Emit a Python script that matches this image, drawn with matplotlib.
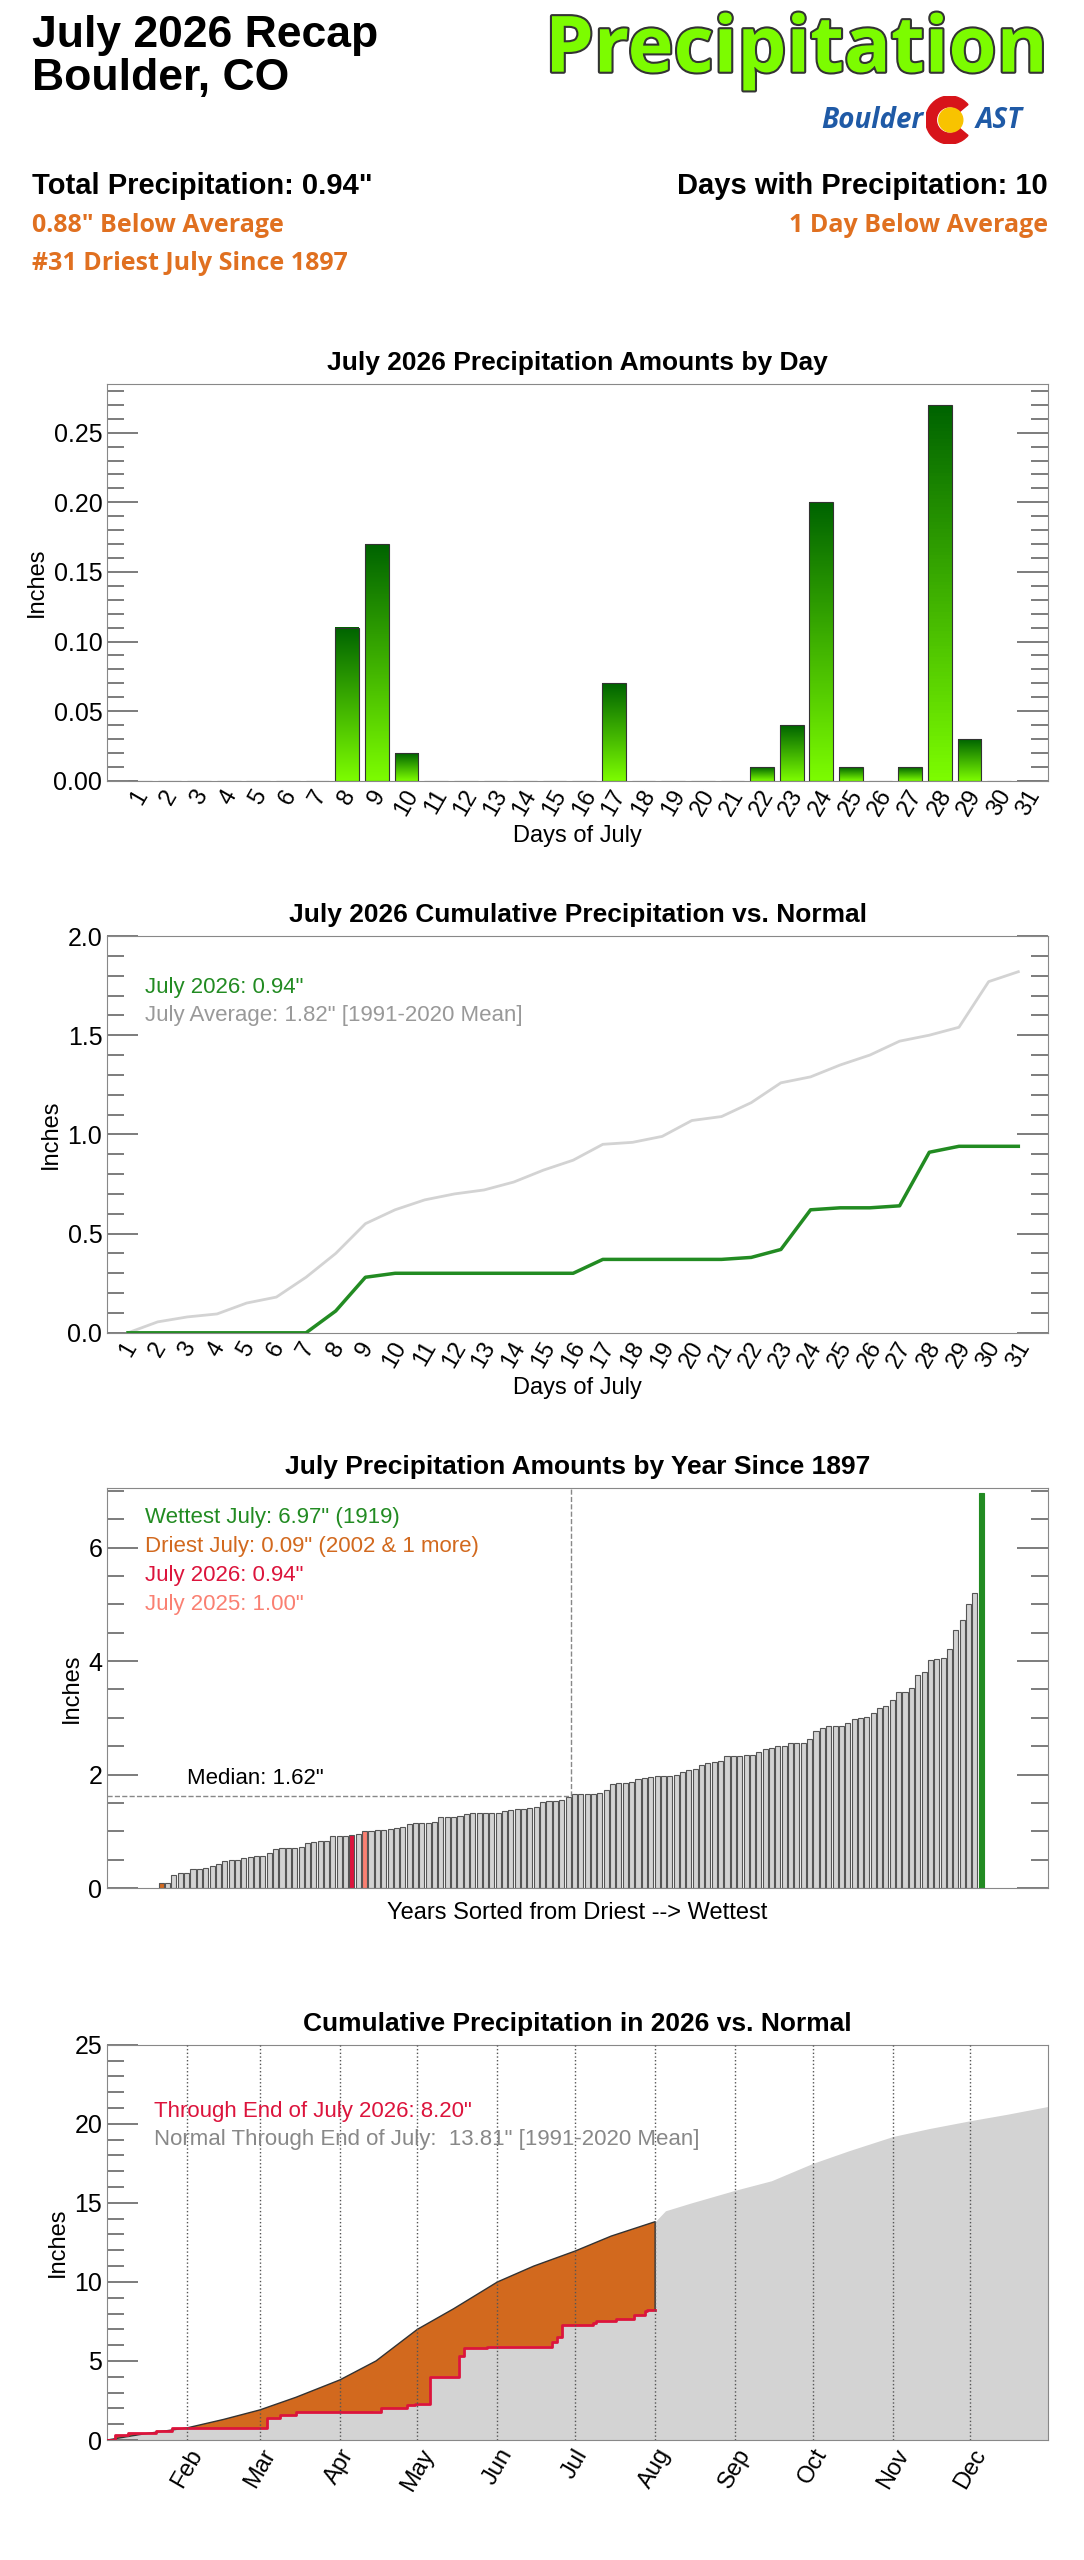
import datetime
import numpy as np
import matplotlib
matplotlib.use("Agg")
import matplotlib.pyplot as plt
import matplotlib.patheffects as pe
from matplotlib.colors import LinearSegmentedColormap
from matplotlib.patches import Wedge, Circle
from matplotlib.ticker import MultipleLocator

# 7月每日降水
daily_2026 = [0, 0, 0, 0, 0, 0, 0, 0.11, 0.17, 0.02, 0, 0, 0, 0, 0, 0, 0.07, 0, 0, 0, 0,
              0.01, 0.04, 0.20, 0.01, 0, 0.01, 0.27, 0.03, 0, 0]
# 7月累计平均 (1991-2020)
normal_cum = [0.0, 0.055, 0.08, 0.095, 0.15, 0.18, 0.28, 0.40, 0.55, 0.62, 0.67, 0.70, 0.72,
              0.76, 0.82, 0.87, 0.95, 0.96, 0.99, 1.07, 1.09, 1.16, 1.26, 1.29, 1.35, 1.40,
              1.47, 1.50, 1.54, 1.77, 1.82]
# 1897年以来7月降水 (已排序)
july_sorted = [0.09, 0.09, 0.23, 0.26, 0.27, 0.33, 0.34, 0.35, 0.39, 0.43,
               0.47, 0.49, 0.49, 0.52, 0.55, 0.56, 0.57, 0.61, 0.68, 0.70,
               0.71, 0.71, 0.72, 0.79, 0.81, 0.82, 0.82, 0.91, 0.92, 0.92,
               0.94, 0.95, 1.00, 1.00, 1.03, 1.03, 1.04, 1.05, 1.07, 1.13,
               1.14, 1.15, 1.15, 1.17, 1.26, 1.26, 1.26, 1.27, 1.30, 1.33,
               1.33, 1.33, 1.33, 1.33, 1.35, 1.37, 1.40, 1.40, 1.41, 1.42,
               1.51, 1.53, 1.54, 1.55, 1.60, 1.65, 1.66, 1.66, 1.66, 1.68,
               1.73, 1.84, 1.85, 1.85, 1.86, 1.92, 1.94, 1.96, 1.97, 1.98,
               1.98, 2.00, 2.05, 2.08, 2.09, 2.17, 2.20, 2.22, 2.24, 2.32,
               2.32, 2.33, 2.34, 2.35, 2.39, 2.45, 2.47, 2.50, 2.51, 2.55,
               2.55, 2.56, 2.63, 2.76, 2.82, 2.85, 2.85, 2.86, 2.91, 2.98,
               2.99, 3.01, 3.08, 3.18, 3.21, 3.31, 3.45, 3.46, 3.52, 3.75,
               3.80, 4.02, 4.04, 4.05, 4.22, 4.55, 4.72, 5.00, 5.20, 6.97]
# 全年累计平均
year_normal = [(1, 1, 0.0), (1, 15, 0.38), (2, 1, 0.77), (2, 15, 1.3), (3, 1, 1.9), (3, 15, 2.7),
               (4, 1, 3.8), (4, 15, 5.0), (5, 1, 7.0), (5, 15, 8.3), (6, 1, 10.0), (6, 15, 11.0),
               (7, 1, 11.95), (7, 15, 12.9), (8, 1, 13.81), (8, 5, 14.5), (8, 15, 15.0),
               (9, 1, 15.8), (9, 15, 16.4), (10, 1, 17.5), (10, 15, 18.3), (11, 1, 19.2),
               (11, 15, 19.7), (12, 1, 20.2), (12, 15, 20.6), (12, 31, 21.1)]
# 2026年累计 (阶梯)
year_2026 = [(1, 1, 0.0), (1, 4, 0.3), (1, 9, 0.45), (1, 20, 0.6), (1, 26, 0.75), (3, 4, 1.4),
             (3, 9, 1.55), (3, 15, 1.75), (4, 14, 1.8), (4, 17, 2.0), (4, 27, 2.2), (4, 30, 2.3),
             (5, 6, 4.0), (5, 17, 5.3), (5, 19, 5.8), (5, 28, 5.9), (6, 22, 6.2), (6, 24, 6.5),
             (6, 26, 7.26), (7, 8, 7.37), (7, 9, 7.54), (7, 17, 7.63), (7, 23, 7.68),
             (7, 24, 7.88), (7, 28, 8.17), (7, 29, 8.20), (8, 1, 8.20)]

GREEN = "#228b22"
ORANGE = "#d2691e"
RED = "#dc143c"


def doy(m, d):
    return datetime.date(2026, m, d).timetuple().tm_yday


# 设置坐标轴刻度
def style_axis(ax, major, minor, right=True):
    ax.yaxis.set_major_locator(MultipleLocator(major))
    ax.yaxis.set_minor_locator(MultipleLocator(minor))
    ax.tick_params(axis="y", which="major", direction="in", length=22, width=1.2,
                   color="#666666", right=right, labelsize=18)
    ax.tick_params(axis="y", which="minor", direction="in", length=12, width=1.2,
                   color="#666666", right=right)
    ax.tick_params(axis="x", length=0, labelsize=17)
    for s in ax.spines.values():
        s.set_color("#888888")


def draw_img(fig):
    W, H = 677.5, 1600.0
    left, width = 67 / W, 588 / W

    # 标题
    fig.text(20 / W, 1 - 22 / H, "July 2026 Recap", fontsize=32, fontweight="bold", va="center")
    fig.text(20 / W, 1 - 49 / H, "Boulder, CO", fontsize=32, fontweight="bold", va="center")
    t = fig.text(655 / W, 1 - 32 / H, "Precipitation", fontsize=56, fontweight="bold",
                 color="#7cfc00", ha="right", va="center", family="Open Sans")
    t.set_path_effects([pe.Stroke(linewidth=3, foreground="#333333"), pe.Normal()])
    fig.text(577 / W, 1 - 75 / H, "Boulder", fontsize=20, fontweight="bold", style="italic",
             color="#1f5aa6", ha="right", va="center", family="Open Sans")
    fig.text(610 / W, 1 - 75 / H, "AST", fontsize=20, fontweight="bold", style="italic",
             color="#1f5aa6", ha="left", va="center", family="Open Sans")
    lax = fig.add_axes([577 / W, 1 - 90 / H, 33 / W, 30 / H])
    lax.set_xlim(-1, 1)
    lax.set_ylim(-1, 1)
    lax.set_aspect("equal")
    lax.axis("off")
    lax.add_patch(Wedge((0, 0), 1.0, 40, 320, width=0.45, color="#d7141a"))
    lax.add_patch(Circle((0.05, 0), 0.5, color="#f8c300"))

    fig.text(20 / W, 1 - 116 / H, "Total Precipitation: 0.94\"", fontsize=21, fontweight="bold", va="center")
    fig.text(655 / W, 1 - 116 / H, "Days with Precipitation: 10", fontsize=21, fontweight="bold",
             ha="right", va="center")
    fig.text(20 / W, 1 - 141 / H, "0.88\" Below Average", fontsize=18, fontweight="bold",
             color="#e07020", va="center", family="Open Sans")
    fig.text(20 / W, 1 - 165 / H, "#31 Driest July Since 1897", fontsize=18, fontweight="bold",
             color="#e07020", va="center", family="Open Sans")
    fig.text(655 / W, 1 - 141 / H, "1 Day Below Average", fontsize=18, fontweight="bold",
             color="#e07020", ha="right", va="center", family="Open Sans")

    days = np.arange(1, 32)

    # 每日降水柱状图
    ax1 = fig.add_axes([left, 1 - 488 / H, width, 248 / H])
    cmap = LinearSegmentedColormap.from_list("g", ["#7cfc00", "#006400"])
    grad = np.linspace(0, 1, 100).reshape(-1, 1)
    for d, v in zip(days, daily_2026):
        if v > 0:
            ax1.imshow(grad, extent=[d - 0.4, d + 0.4, 0, v], origin="lower", aspect="auto",
                       cmap=cmap, zorder=2)
    ax1.bar(days, daily_2026, width=0.8, fill=False, edgecolor="#333333", linewidth=0.8, zorder=3)
    ax1.set_xlim(-0.1, 31.65)
    ax1.set_ylim(0, 0.285)
    ax1.set_xticks(days)
    ax1.set_xticklabels([str(d) for d in days], rotation=60)
    style_axis(ax1, 0.05, 0.01)
    ax1.set_title("July 2026 Precipitation Amounts by Day", fontsize=19, fontweight="bold", pad=10)
    ax1.set_ylabel("Inches", fontsize=17)
    ax1.set_xlabel("Days of July", fontsize=17)

    # 月累计
    ax2 = fig.add_axes([left, 1 - 833 / H, width, 248 / H])
    ax2.plot(days, normal_cum, color="#d3d3d3", linewidth=2)
    ax2.plot(days, np.cumsum(daily_2026), color=GREEN, linewidth=2.5)
    ax2.set_xlim(0.3, 32.0)
    ax2.set_ylim(0, 2.0)
    ax2.set_xticks(days)
    ax2.set_xticklabels([str(d) for d in days], rotation=60)
    style_axis(ax2, 0.5, 0.1)
    ax2.set_title("July 2026 Cumulative Precipitation vs. Normal", fontsize=19, fontweight="bold", pad=10)
    ax2.set_ylabel("Inches", fontsize=17)
    ax2.set_xlabel("Days of July", fontsize=17)
    ax2.text(0.04, 0.87, "July 2026: 0.94\"", transform=ax2.transAxes, color=GREEN, fontsize=16, va="center")
    ax2.text(0.04, 0.80, "July Average: 1.82\" [1991-2020 Mean]", transform=ax2.transAxes,
             color="#999999", fontsize=16, va="center")

    # 历年排序
    ax3 = fig.add_axes([left, 1 - 1180 / H, width, 250 / H])
    n = len(july_sorted)
    colors = ["#d3d3d3"] * n
    colors[0] = ORANGE
    colors[30] = RED
    colors[32] = "#fa8072"
    colors[-1] = GREEN
    edges = ["#555555"] * n
    edges[-1] = GREEN
    ax3.bar(np.arange(n), july_sorted, width=0.8, color=colors, edgecolor=edges, linewidth=0.8)
    med = np.median(july_sorted)
    mid = (n - 1) / 2
    ax3.plot([-8.5, mid], [med, med], color="#888888", linestyle="--", linewidth=1)
    ax3.plot([mid, mid], [med, 7.05], color="#888888", linestyle="--", linewidth=1)
    ax3.text(4, med + 0.12, "Median: 1.62\"", fontsize=16, va="bottom")
    ax3.set_xlim(-8.5, 139.5)
    ax3.set_ylim(0, 7.05)
    ax3.set_xticks([])
    style_axis(ax3, 2, 0.5)
    ax3.set_title("July Precipitation Amounts by Year Since 1897", fontsize=19, fontweight="bold", pad=10)
    ax3.set_ylabel("Inches", fontsize=17)
    ax3.set_xlabel("Years Sorted from Driest --> Wettest", fontsize=17, labelpad=10)
    for i, (s, c) in enumerate([("Wettest July: 6.97\" (1919)", GREEN),
                                ("Driest July: 0.09\" (2002 & 1 more)", ORANGE),
                                ("July 2026: 0.94\"", RED),
                                ("July 2025: 1.00\"", "#fa8072")]):
        ax3.text(0.04, 0.925 - i * 0.072, s, transform=ax3.transAxes, color=c, fontsize=16, va="center")

    # 年累计
    ax4 = fig.add_axes([left, 1 - 1525 / H, width, 247 / H])
    nx = [doy(m, d) for m, d, v in year_normal]
    ny = [v for m, d, v in year_normal]
    ax4.fill_between(nx, 0, ny, color="#d3d3d3", linewidth=0, zorder=1)
    sx, sy = [], []
    for i, (m, d, v) in enumerate(year_2026):
        x = doy(m, d)
        if i > 0:
            sx.append(x)
            sy.append(sy[-1])
        sx.append(x)
        sy.append(v)
    cut = nx.index(doy(8, 1)) + 1
    px = nx[:cut] + sx[::-1]
    py = ny[:cut] + sy[::-1]
    ax4.fill(px, py, color=ORANGE, linewidth=0, zorder=2)
    ax4.plot(nx[:cut] + [nx[cut - 1]], ny[:cut] + [sy[-1]], color="#333333", linewidth=1, zorder=3)
    ax4.plot(sx, sy, color=RED, linewidth=2, zorder=4)
    month_starts = [doy(m, 1) for m in range(2, 13)]
    for x in month_starts:
        ax4.axvline(x, color="#555555", linestyle=":", linewidth=1, zorder=5)
    ax4.set_xticks(month_starts)
    ax4.set_xticklabels(["Feb", "Mar", "Apr", "May", "Jun", "Jul", "Aug", "Sep", "Oct", "Nov", "Dec"],
                        rotation=60, ha="center")
    ax4.set_xlim(1, 365)
    ax4.set_ylim(0, 25)
    style_axis(ax4, 5, 1, right=False)
    ax4.set_title("Cumulative Precipitation in 2026 vs. Normal", fontsize=19, fontweight="bold", pad=10)
    ax4.set_ylabel("Inches", fontsize=17)
    ax4.text(0.05, 0.83, "Through End of July 2026: 8.20\"", transform=ax4.transAxes, color=RED,
             fontsize=16, va="center", zorder=6)
    ax4.text(0.05, 0.76, "Normal Through End of July:  13.81\" [1991-2020 Mean]", transform=ax4.transAxes,
             color="#888888", fontsize=16, va="center", zorder=6)


if __name__ == "__main__":
    plt.rcParams['font.family'] = ['Liberation Sans', 'DejaVu Sans']
    fig = plt.figure(figsize=(10.84, 25.6), dpi=100)
    draw_img(fig)
    fig.savefig("out.png", dpi=100, facecolor="white")
    print("Finish!")
